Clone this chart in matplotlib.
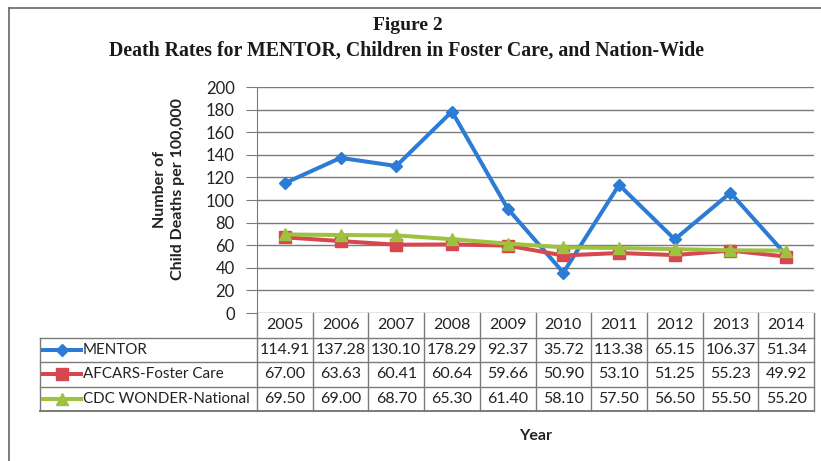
import matplotlib.pyplot as plt
from matplotlib.lines import Line2D

# Data
years = ["2005", "2006", "2007", "2008", "2009", "2010", "2011", "2012", "2013", "2014"]
mentor = [114.91, 137.28, 130.10, 178.29, 92.37, 35.72, 113.38, 65.15, 106.37, 51.34]
afcars = [67.00, 63.63, 60.41, 60.64, 59.66, 50.90, 53.10, 51.25, 55.23, 49.92]
cdc = [69.50, 69.00, 68.70, 65.30, 61.40, 58.10, 57.50, 56.50, 55.50, 55.20]
series_names = ["MENTOR", "AFCARS-Foster Care", "CDC WONDER-National"]

colors = ["#2c7bd4", "#d6474f", "#9ec23f"]
markers = ["D", "s", "^"]
msizes = [6.5, 8, 8.5]

W, H = 821, 461
fig = plt.figure(figsize=(W / 100, H / 100), dpi=100)
plt.rcParams['font.family'] = ['Lato', 'DejaVu Sans']

# layout in pixels
plot_l, plot_r, plot_t, plot_b = 257, 814, 87, 313
tab_l, tab_b = 40, 411
col_w = (plot_r - plot_l) / len(years)
txt = "#222222"


def fx(px):
    return px / W


def fy(py):
    return 1 - py / H


# frame of the figure
fig.add_artist(Line2D([fx(9), fx(9)], [fy(8), 0], color="#666666", lw=1.2))
fig.add_artist(Line2D([fx(9), 1], [fy(8), fy(8)], color="#666666", lw=1.2))

# titles
fig.text(fx(408), fy(25), "Figure 2", ha="center", va="center",
         family="Liberation Serif", weight="bold", fontsize=14, color="#1a1a1a")
fig.text(fx(406), fy(51), "Death Rates for MENTOR, Children in Foster Care, and Nation-Wide",
         ha="center", va="center", family="Liberation Serif", weight="bold",
         fontsize=14.3, color="#1a1a1a")

# main chart
ax = fig.add_axes([fx(plot_l), fy(plot_b), (plot_r - plot_l) / W, (plot_b - plot_t) / H])
x = range(len(years))
for vals, c, m, ms in zip([mentor, afcars, cdc], colors, markers, msizes):
    ax.plot(x, vals, color=c, lw=2.9, marker=m, markersize=ms, markeredgecolor=c)

ax.set_xlim(-0.5, len(years) - 0.5)
ax.set_ylim(0, 200)
ax.set_yticks(range(0, 201, 20))
ax.set_xticks([])
ax.yaxis.grid(True, color="#7a7a7a", lw=1)
ax.set_axisbelow(True)
for s in ["top", "right", "bottom"]:
    ax.spines[s].set_visible(False)
ax.spines["left"].set_color("#7a7a7a")
ax.tick_params(axis="y", length=8, color="#7a7a7a", labelsize=12, labelcolor=txt, pad=8)

fig.text(fx(169), fy(189), "Number of\nChild Deaths per 100,000", rotation=90,
         ha="center", va="center", fontsize=11.5, weight="bold", color=txt,
         linespacing=1.45)

# data table underneath, sharing the x scale of the chart
tab_x0 = -0.5 - (plot_l - tab_l) / col_w
tax = fig.add_axes([fx(tab_l), fy(tab_b), (plot_r - tab_l) / W, (tab_b - plot_b) / H])
tax.set_xlim(tab_x0, len(years) - 0.5)
tax.set_ylim(4, 0)
tax.axis("off")
lc = "#7a7a7a"
n = len(years)
for i in range(n + 1):
    tax.plot([i - 0.5, i - 0.5], [0, 4], color=lc, lw=1, clip_on=False)
for j in range(1, 5):
    tax.plot([tab_x0, n - 0.5], [j, j], color=lc, lw=1.4 if j == 4 else 1, clip_on=False)
tax.plot([tab_x0, tab_x0], [1, 4], color=lc, lw=1, clip_on=False)
for i, yr in enumerate(years):
    tax.text(i, 0.5, yr, ha="center", va="center", fontsize=11.5, color=txt)


def px2x(px):
    return -0.5 - (plot_l - px) / col_w


rows = [mentor, afcars, cdc]
for r, (vals, name, c, m, ms) in enumerate(zip(rows, series_names, colors, markers, msizes)):
    yc = r + 1.5
    for i, v in enumerate(vals):
        tax.text(i, yc, f"{v:.2f}", ha="center", va="center", fontsize=11.5, color=txt)
    tax.plot([px2x(43), px2x(81)], [yc, yc], color=c, lw=2.9, clip_on=False)
    tax.plot([px2x(62)], [yc], color=c, marker=m, markersize=ms, clip_on=False)
    tax.text(px2x(83), yc, name, ha="left", va="center", fontsize=10.9, color=txt)

fig.text(fx((plot_l + plot_r) / 2), fy(436), "Year", ha="center", va="center",
         fontsize=11.5, weight="bold", color=txt)

fig.savefig("out.png", dpi=100)
